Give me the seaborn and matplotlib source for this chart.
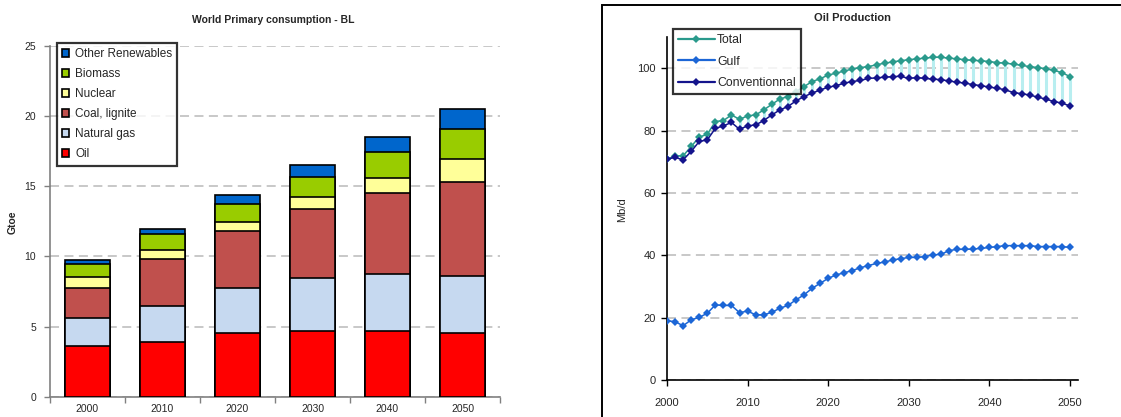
import numpy as np
import pandas as pd
import matplotlib
matplotlib.use("Agg")
import matplotlib.pyplot as plt
from matplotlib.patches import Patch, Rectangle
from matplotlib.lines import Line2D
import seaborn as sns

# ---- World primary energy consumption by source (Gtoe) ----
decades = ["2000", "2010", "2020", "2030", "2040", "2050"]
oil = [3.61, 3.92, 4.58, 4.72, 4.72, 4.58]
natural_gas = [2.04, 2.56, 3.21, 3.73, 4.02, 4.01]
coal_lignite = [2.14, 3.37, 4.01, 4.92, 5.79, 6.72]
nuclear = [0.76, 0.64, 0.62, 0.83, 1.09, 1.64]
biomass = [0.95, 1.10, 1.28, 1.45, 1.81, 2.09]
other_renewables = [0.23, 0.38, 0.66, 0.83, 1.09, 1.43]

source_names = ["Oil", "Natural gas", "Coal, lignite", "Nuclear", "Biomass",
                "Other Renewables"]
source_colors = ["#FF0000", "#C6D9F0", "#C0504D", "#FFFF99", "#99CC00", "#0066CC"]

# ---- Oil production (Mb/d), yearly 2000-2050 ----
years = list(range(2000, 2051))
total = [70.8, 71.9, 71.9, 74.9, 77.9, 78.8, 82.9, 83.2, 85.0, 83.6,
         84.7, 85.0, 86.6, 88.4, 90.1, 90.9, 92.5, 94.1, 95.7, 96.6,
         97.8, 98.4, 99.1, 99.7, 100.2, 100.5, 101.1, 101.6, 102.0, 102.4,
         102.7, 103.0, 103.2, 103.5, 103.5, 103.2, 103.0, 102.7, 102.5, 102.4,
         102.1, 101.8, 101.6, 101.3, 100.9, 100.5, 100.2, 99.8, 99.3, 98.6,
         97.3]
gulf = [19.0, 18.7, 17.4, 19.3, 20.1, 21.4, 24.1, 23.9, 23.9, 21.6,
        22.1, 20.9, 20.9, 21.7, 23.0, 23.9, 25.7, 27.3, 29.4, 31.0,
        32.6, 33.7, 34.4, 35.1, 36.0, 36.7, 37.4, 37.8, 38.5, 38.9,
        39.3, 39.3, 39.6, 40.1, 40.3, 41.5, 41.9, 41.9, 42.0, 42.2,
        42.5, 42.8, 43.1, 43.1, 43.1, 43.1, 42.8, 42.8, 42.8, 42.8,
        42.5]
conventional = [70.8, 71.4, 70.6, 73.3, 76.5, 77.0, 80.7, 81.5, 82.6, 80.4,
                81.5, 81.8, 83.2, 85.0, 86.6, 87.7, 89.5, 90.9, 92.0, 93.0,
                93.9, 94.4, 95.2, 95.7, 96.1, 96.7, 96.9, 97.1, 97.3, 97.4,
                96.7, 97.0, 96.7, 96.5, 96.3, 95.9, 95.5, 95.2, 94.7, 94.4,
                93.9, 93.6, 93.0, 92.2, 91.8, 91.4, 90.7, 90.1, 89.3, 88.8,
                87.9]
series_names = ["Total", "Gulf", "Conventionnal"]
series_colors = ["#2A9A8C", "#1C66D6", "#14148C"]

sns.set_theme(style="white")
plt.rcParams["font.family"] = ["Liberation Sans", "DejaVu Sans"]

W, H = 1121, 417
fig = plt.figure(figsize=(W / 100, H / 100), dpi=100)
grid_kw = dict(color="#C4C4C4", linestyle=(0, (5, 3)), linewidth=1.3)

# ================= Left: stacked bars =================
ax1 = fig.add_axes([50 / W, 20 / H, 450 / W, 351.3 / H])
layers = np.array([oil, natural_gas, coal_lignite, nuclear, biomass, other_renewables])
stacked = np.cumsum(layers, axis=0)
# draw cumulative totals from the top layer down so each segment shows
for i in reversed(range(len(layers))):
    sns.barplot(x=decades, y=stacked[i], color=source_colors[i], saturation=1,
                width=0.59, edgecolor="black", linewidth=1.2, ax=ax1, zorder=3)

ax1.set_xlim(-0.5, 5.5)
ax1.set_ylim(0, 25)
ax1.set_yticks(range(0, 26, 5))
ax1.set_xlabel("")
ax1.set_ylabel("")
ax1.yaxis.grid(True, **grid_kw)
ax1.set_axisbelow(True)
for s in ["top", "right"]:
    ax1.spines[s].set_visible(False)
for s in ["left", "bottom"]:
    ax1.spines[s].set_color("#808080")
    ax1.spines[s].set_linewidth(1.2)
ax1.set_xticks(np.arange(-0.5, 6, 1), minor=True)
ax1.tick_params(axis="x", which="major", length=0, pad=5, labelsize=7.5)
ax1.tick_params(axis="x", which="minor", length=4, width=1, color="#808080",
                bottom=True, direction="out")
ax1.tick_params(axis="y", length=4, width=1, color="#808080", left=True,
                direction="out", pad=6, labelsize=7.5)

handles = [Patch(facecolor=c, edgecolor="black", linewidth=1.2)
           for c in source_colors[::-1]]
leg1 = ax1.legend(handles, source_names[::-1], loc="upper left",
                  bbox_to_anchor=(0.015, 1.008), fontsize=8.5, frameon=True,
                  fancybox=False, edgecolor="black", handlelength=0.6,
                  handleheight=0.6, labelspacing=0.68, borderpad=0.45,
                  handletextpad=0.5, borderaxespad=0)
leg1.get_frame().set_linewidth(1.6)

fig.text(273 / W, 1 - 20 / H, "World Primary consumption - BL", ha="center",
         va="center", fontsize=7.5, fontweight="bold")
fig.text(13 / W, 1 - 222 / H, "Gtoe", rotation=90, ha="center", va="center",
         fontsize=7.5, fontweight="bold")

# ================= Right: oil production lines =================
fig.add_artist(Rectangle((602 / W, -0.05), 1.0, 1 - 5 / H + 0.05,
                         transform=fig.transFigure, fill=False,
                         edgecolor="black", linewidth=1.4))

ax2 = fig.add_axes([667 / W, 37 / H, 411 / W, 343 / H])
# high-low connectors between total and conventional production
ax2.vlines(years, conventional, total, color="#B8EEF0", linewidth=2.2, zorder=1)

df_lines = pd.DataFrame({
    "year": years * 3,
    "value": total + gulf + conventional,
    "series": [n for n in series_names for _ in years],
})
sns.lineplot(data=df_lines, x="year", y="value", hue="series",
             hue_order=series_names, palette=series_colors, marker="D",
             markersize=4.2, markeredgewidth=0, linewidth=1.1, legend=False,
             ax=ax2, zorder=3)

ax2.set_xlim(2000, 2051)
ax2.set_ylim(0, 110)
ax2.set_xticks(range(2000, 2051, 10))
ax2.set_yticks(range(0, 101, 20))
ax2.set_xlabel("")
ax2.set_ylabel("")
ax2.yaxis.grid(True, **grid_kw)
ax2.set_axisbelow(True)
for s in ["top", "right"]:
    ax2.spines[s].set_visible(False)
for s in ["left", "bottom"]:
    ax2.spines[s].set_color("black")
    ax2.spines[s].set_linewidth(1.2)
ax2.tick_params(axis="x", length=4, width=1, color="black", bottom=True,
                direction="out", pad=9, labelsize=8)
ax2.tick_params(axis="y", length=4, width=1, color="black", left=True,
                direction="out", pad=4, labelsize=8)

line_handles = [Line2D([], [], color=c, marker="D", markersize=4.2,
                       markeredgewidth=0, linewidth=1.6) for c in series_colors]
leg2 = ax2.legend(line_handles, series_names, loc="upper left",
                  bbox_to_anchor=(0.0146, 1.023), fontsize=8.8, frameon=True,
                  fancybox=False, edgecolor="black", handlelength=3.0,
                  labelspacing=0.78, borderpad=0.4, handletextpad=0.2,
                  borderaxespad=0)
leg2.get_frame().set_linewidth(1.6)

fig.text(853 / W, 1 - 18 / H, "Oil Production", ha="center", va="center",
         fontsize=8, fontweight="bold")
fig.text(622 / W, 1 - 210 / H, "Mb/d", rotation=90, ha="center", va="center",
         fontsize=8)

fig.savefig("out.png", dpi=100)
